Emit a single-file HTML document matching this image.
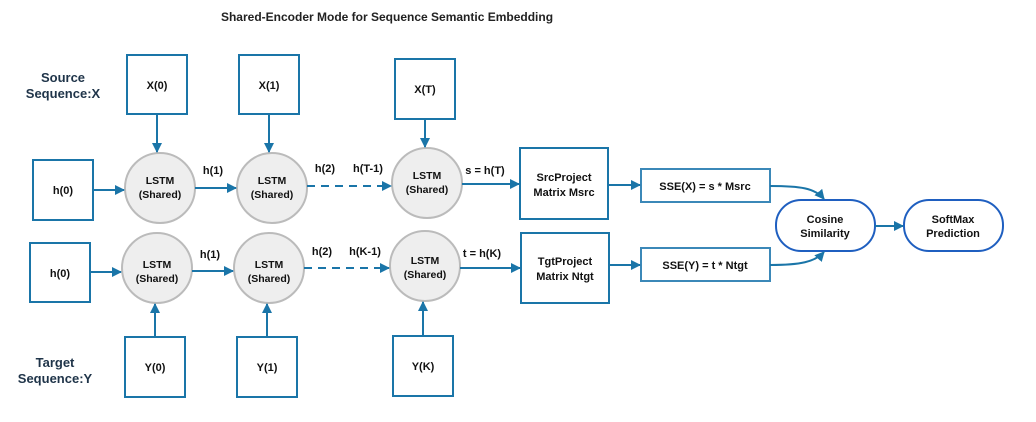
<!DOCTYPE html>
<html><head><style>body{margin:0;background:#fff}</style></head><body>
<svg width="1036" height="417" xmlns="http://www.w3.org/2000/svg" font-family="Liberation Sans, sans-serif" font-weight="bold" font-size="11">
<defs><marker id="a" markerWidth="10" markerHeight="10" refX="9" refY="5" orient="auto" markerUnits="userSpaceOnUse"><path d="M0,0 L10,5 L0,10z" fill="#1a75a8"/></marker></defs>
<text x="387" y="21" text-anchor="middle" font-size="12" fill="#222">Shared-Encoder Mode for Sequence Semantic Embedding</text>
<g fill="#1f3449" font-size="13" text-anchor="middle"><text x="63" y="82">Source</text><text x="63" y="98">Sequence:X</text><text x="55" y="367">Target</text><text x="55" y="383">Sequence:Y</text></g>
<g fill="#fff" stroke="#1a75a8" stroke-width="2">
<rect x="127" y="55" width="60" height="59"/><rect x="239" y="55" width="60" height="59"/><rect x="395" y="59" width="60" height="60"/>
<rect x="33" y="160" width="60" height="60"/><rect x="30" y="243" width="60" height="59"/>
<rect x="125" y="337" width="60" height="60"/><rect x="237" y="337" width="60" height="60"/><rect x="393" y="336" width="60" height="60"/>
<rect x="520" y="148" width="88" height="71"/><rect x="521" y="233" width="88" height="70"/>
<rect x="641" y="169" width="129" height="33" stroke="#3b88b8"/><rect x="641" y="248" width="129" height="33" stroke="#3b88b8"/>
<rect x="776" y="200" width="99" height="51" rx="25" stroke="#1f5fc0"/><rect x="904" y="200" width="99" height="51" rx="25" stroke="#1f5fc0"/>
</g>
<g fill="#eee" stroke="#bbb" stroke-width="2">
<circle cx="160" cy="188" r="35"/><circle cx="272" cy="188" r="35"/><circle cx="427" cy="183" r="35"/>
<circle cx="157" cy="268" r="35"/><circle cx="269" cy="268" r="35"/><circle cx="425" cy="266" r="35"/>
</g>
<g stroke="#1a75a8" stroke-width="2" fill="none" marker-end="url(#a)">
<path d="M157,114V152"/><path d="M269,114V152"/><path d="M425,119V147"/>
<path d="M93,190H124"/><path d="M195,188H236"/><path d="M307,186H391" stroke-dasharray="8,6"/><path d="M462,184H519"/>
<path d="M155,337V304"/><path d="M267,337V304"/><path d="M423,336V302"/>
<path d="M90,272H121"/><path d="M192,271H233"/><path d="M304,268H389" stroke-dasharray="8,6"/><path d="M460,268H520"/>
<path d="M608,185H640"/><path d="M609,265H640"/>
<path d="M770,186C800,186 815,188 824,199"/><path d="M770,265C800,265 815,262 824,252"/>
<path d="M875,226H903"/>
</g>
<g text-anchor="middle" fill="#111">
<text x="157" y="89">X(0)</text><text x="269" y="89">X(1)</text><text x="425" y="93">X(T)</text>
<text x="63" y="194">h(0)</text><text x="60" y="277">h(0)</text>
<text x="155" y="371">Y(0)</text><text x="267" y="371">Y(1)</text><text x="423" y="370">Y(K)</text>
<g font-size="10.5"><text x="160" y="184">LSTM</text><text x="160" y="198">(Shared)</text><text x="272" y="184">LSTM</text><text x="272" y="198">(Shared)</text><text x="427" y="179">LSTM</text><text x="427" y="193">(Shared)</text>
<text x="157" y="268">LSTM</text><text x="157" y="282">(Shared)</text><text x="269" y="268">LSTM</text><text x="269" y="282">(Shared)</text><text x="425" y="264">LSTM</text><text x="425" y="278">(Shared)</text></g>
<text x="213" y="174">h(1)</text><text x="325" y="172">h(2)</text><text x="368" y="172">h(T-1)</text><text x="485" y="174">s = h(T)</text>
<text x="210" y="258">h(1)</text><text x="322" y="255">h(2)</text><text x="365" y="255">h(K-1)</text><text x="482" y="257">t = h(K)</text>
<text x="564" y="181">SrcProject</text><text x="564" y="196">Matrix Msrc</text>
<text x="565" y="265">TgtProject</text><text x="565" y="280">Matrix Ntgt</text>
<text x="705" y="190">SSE(X) = s * Msrc</text><text x="705" y="269">SSE(Y) = t * Ntgt</text>
<text x="825" y="223">Cosine</text><text x="825" y="237">Similarity</text>
<text x="953" y="223">SoftMax</text><text x="953" y="237">Prediction</text>
</g>
</svg>
</body></html>
